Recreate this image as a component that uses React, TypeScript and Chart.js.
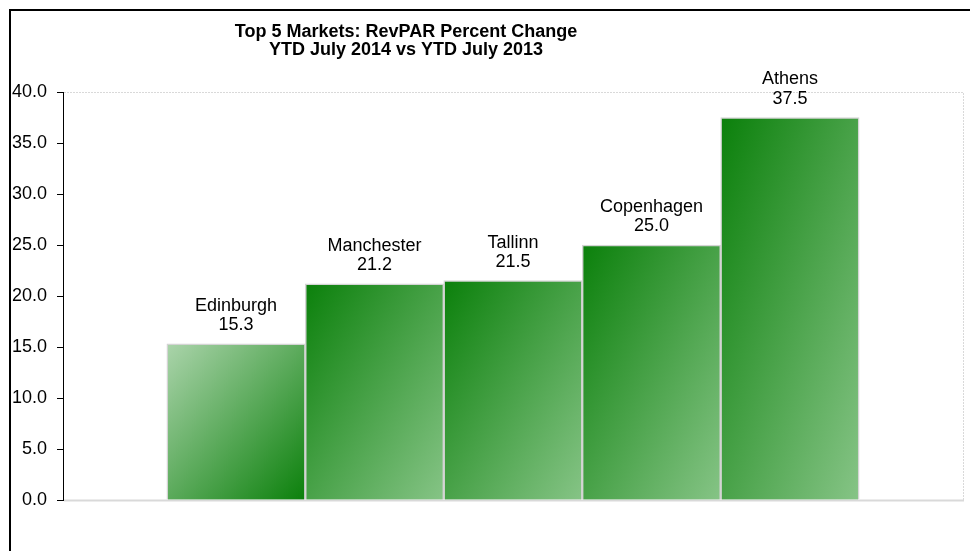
import React, { useEffect, useRef } from 'react';
import { Chart, registerables } from 'chart.js';

Chart.register(...registerables);

const titleLines = ['Top 5 Markets: RevPAR Percent Change', 'YTD July 2014 vs YTD July 2013'];
const categories = ['Edinburgh', 'Manchester', 'Tallinn', 'Copenhagen', 'Athens'];
const revparChange = [15.3, 21.2, 21.5, 25.0, 37.5];
const yTicks = [0, 5, 10, 15, 20, 25, 30, 35, 40];
const reversedGradient = [true, false, false, false, false];

const FONT = '"Liberation Sans", Arial, Helvetica, sans-serif';
const DARK = '#0b800b';
const LIGHT = '#86c486';
const LIGHT_REV = '#abd4ab';

function barFill(ctx: any) {
  const chart = ctx.chart;
  const i = ctx.dataIndex;
  const xs = chart.scales?.x;
  const ys = chart.scales?.y;
  if (!chart.chartArea || !xs || !ys || i == null) return DARK;
  const unit = Math.abs(xs.getPixelForValue(1) - xs.getPixelForValue(0));
  const cx = xs.getPixelForValue(i + 1);
  const left = cx - unit / 2;
  const top = ys.getPixelForValue(revparChange[i]);
  const bottom = ys.getPixelForValue(0);
  const w = unit;
  const h = Math.max(1, bottom - top);
  const k = (2 * w * h) / (w * w + h * h);
  const g = chart.ctx.createLinearGradient(left, top, left + h * k, top + w * k);
  if (reversedGradient[i]) {
    g.addColorStop(0, LIGHT_REV);
    g.addColorStop(1, DARK);
  } else {
    g.addColorStop(0, DARK);
    g.addColorStop(1, LIGHT);
  }
  return g;
}

const decorPlugin = {
  id: 'decor',
  beforeDatasetsDraw(chart: any) {
    const { ctx, chartArea } = chart;
    ctx.save();
    ctx.strokeStyle = '#d9d9d9';
    ctx.lineWidth = 1;
    ctx.setLineDash([2, 1]);
    ctx.beginPath();
    ctx.moveTo(chartArea.left + 1, chartArea.top + 0.5);
    ctx.lineTo(chartArea.right + 0.5, chartArea.top + 0.5);
    ctx.lineTo(chartArea.right + 0.5, chartArea.bottom + 1);
    ctx.stroke();
    ctx.setLineDash([]);
    ctx.lineWidth = 2;
    ctx.beginPath();
    ctx.moveTo(chartArea.left + 1, chartArea.bottom + 0.5);
    ctx.lineTo(chartArea.right + 1, chartArea.bottom + 0.5);
    ctx.stroke();
    ctx.restore();
  },
  afterDraw(chart: any) {
    const { ctx, width, height } = chart;
    ctx.save();
    ctx.strokeStyle = '#000';
    ctx.lineWidth = 2;
    ctx.beginPath();
    ctx.moveTo(10, height + 5);
    ctx.lineTo(10, 10);
    ctx.lineTo(width + 5, 10);
    ctx.stroke();
    ctx.fillStyle = '#000';
    ctx.font = `bold 18px ${FONT}`;
    ctx.textAlign = 'center';
    ctx.textBaseline = 'alphabetic';
    ctx.fillText(titleLines[0], 406, 37);
    ctx.fillText(titleLines[1], 406, 55);
    ctx.restore();
  },
  afterDatasetsDraw(chart: any) {
    const { ctx } = chart;
    const meta = chart.getDatasetMeta(0);
    ctx.save();
    ctx.fillStyle = '#000';
    ctx.font = `18px ${FONT}`;
    ctx.textAlign = 'center';
    ctx.textBaseline = 'middle';
    meta.data.forEach((bar: any, i: number) => {
      ctx.fillText(categories[i], bar.x, bar.y - 38);
      ctx.fillText(revparChange[i].toFixed(1), bar.x, bar.y - 18.5);
    });
    ctx.restore();
  },
};

export default function App() {
  const canvasRef = useRef<HTMLCanvasElement | null>(null);

  useEffect(() => {
    const canvas = canvasRef.current;
    if (!canvas) return;
    const chart = new Chart(canvas, {
      type: 'bar',
      data: {
        datasets: [
          {
            label: 'RevPAR % change',
            data: revparChange.map((v, i) => ({ x: i + 1, y: v })),
            backgroundColor: barFill,
            borderColor: '#d4d4d4',
            borderWidth: 1.5,
            barPercentage: 1,
            categoryPercentage: 1,
          } as any,
        ],
      },
      options: {
        responsive: false,
        animation: false,
        events: [],
        layout: { padding: { left: 0, top: 92, right: 7, bottom: 51 } },
        plugins: {
          legend: { display: false },
          title: { display: false },
          tooltip: { enabled: false },
        },
        scales: {
          x: {
            type: 'linear',
            offset: false,
            grid: { offset: false },
            min: -0.25,
            max: categories.length + 1.25,
            display: false,
            afterBuildTicks: (s: any) => {
              s.ticks = categories.map((_, i) => ({ value: i + 1 }));
            },
          },
          y: {
            min: 0,
            max: 40,
            afterBuildTicks: (s: any) => {
              s.ticks = yTicks.map((v) => ({ value: v }));
            },
            afterFit: (s: any) => {
              s.width = 63;
            },
            ticks: {
              callback: (v: any) => Number(v).toFixed(1),
              font: { family: FONT, size: 18 },
              color: '#000',
              padding: 10,
            },
            grid: {
              drawOnChartArea: false,
              drawTicks: true,
              tickLength: 6,
              tickColor: '#000',
              color: '#000',
            },
            border: { color: '#000', width: 1 },
          },
        } as any,
      },
      plugins: [decorPlugin],
    });
    return () => chart.destroy();
  }, []);

  return (
    <canvas
      ref={canvasRef}
      width={970}
      height={551}
      style={{ position: 'absolute', left: 0, top: 0, width: 970, height: 551, display: 'block', background: '#fff' }}
    />
  );
}
